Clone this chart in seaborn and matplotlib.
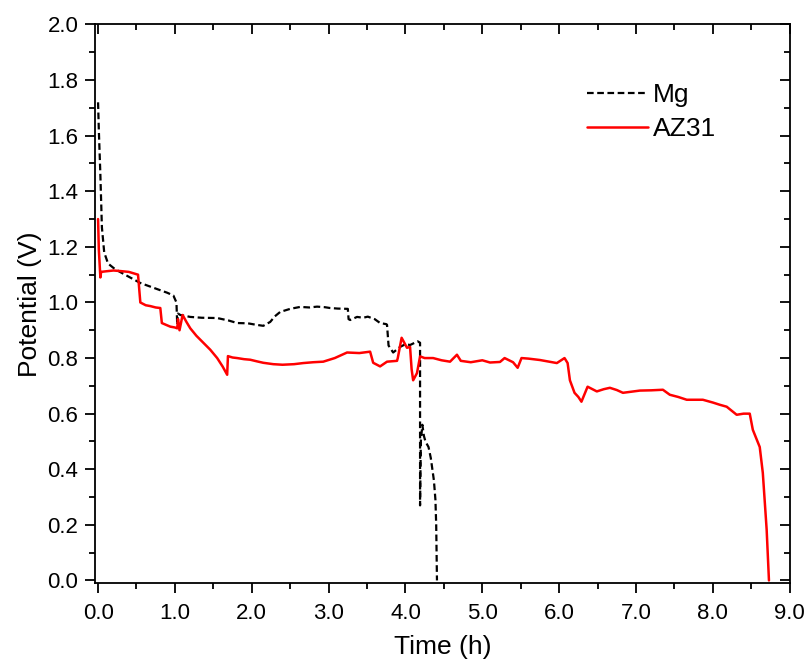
import numpy as np
import pandas as pd
import matplotlib
matplotlib.use("Agg")
import matplotlib.pyplot as plt
import seaborn as sns
from matplotlib.ticker import MultipleLocator

# Mg (black dashed)
mg_time = [0.00, 0.01, 0.03, 0.05, 0.08, 0.13, 0.22, 0.35, 0.55, 0.70, 0.80, 0.90,
           0.98, 1.02, 1.03, 1.04, 1.07, 1.20, 1.35, 1.55, 1.70, 1.81, 1.95, 2.05,
           2.15, 2.24, 2.30, 2.37, 2.50, 2.63, 2.75, 2.85, 2.95, 3.02, 3.12, 3.25,
           3.26, 3.28, 3.37, 3.45, 3.51, 3.60, 3.67, 3.75, 3.76, 3.78, 3.84, 3.93,
           4.00, 4.06, 4.12, 4.16, 4.19, 4.19, 4.20, 4.22, 4.24, 4.26, 4.30, 4.33,
           4.35, 4.37, 4.39, 4.40, 4.41]
mg_volt = [1.72, 1.62, 1.46, 1.27, 1.18, 1.14, 1.12, 1.10, 1.07, 1.055, 1.045, 1.035,
           1.025, 1.00, 0.92, 0.96, 0.955, 0.948, 0.945, 0.944, 0.935, 0.926, 0.925, 0.920,
           0.916, 0.930, 0.950, 0.966, 0.977, 0.984, 0.982, 0.985, 0.983, 0.980, 0.978, 0.977,
           0.940, 0.937, 0.948, 0.945, 0.949, 0.940, 0.926, 0.922, 0.920, 0.845, 0.820, 0.840,
           0.850, 0.847, 0.855, 0.860, 0.855, 0.270, 0.500, 0.560, 0.520, 0.500, 0.480, 0.440,
           0.400, 0.360, 0.290, 0.200, 0.000]

# AZ31 (red solid)
az_time = [0.00, 0.01, 0.03, 0.04, 0.10, 0.20, 0.29, 0.40, 0.52, 0.55, 0.62, 0.68,
           0.75, 0.81, 0.83, 0.88, 0.94, 1.00, 1.03, 1.04, 1.06, 1.10, 1.15, 1.20,
           1.28, 1.37, 1.46, 1.55, 1.62, 1.68, 1.69, 1.75, 1.81, 1.90, 1.98, 2.07,
           2.15, 2.28, 2.40, 2.55, 2.67, 2.80, 2.93, 3.08, 3.24, 3.40, 3.54, 3.58,
           3.67, 3.76, 3.89, 3.90, 3.95, 4.02, 4.06, 4.08, 4.10, 4.15, 4.19, 4.25,
           4.36, 4.47, 4.58, 4.67, 4.72, 4.85, 5.00, 5.10, 5.23, 5.29, 5.40, 5.46,
           5.51, 5.60, 5.75, 5.85, 5.97, 6.07, 6.11, 6.14, 6.20, 6.25, 6.29, 6.37,
           6.49, 6.58, 6.66, 6.75, 6.83, 7.05, 7.20, 7.35, 7.44, 7.55, 7.66, 7.87,
           8.00, 8.09, 8.18, 8.31, 8.40, 8.48, 8.52, 8.61, 8.65, 8.70, 8.73]
az_volt = [1.30, 1.19, 1.09, 1.11, 1.112, 1.115, 1.113, 1.110, 1.100, 1.000, 0.990, 0.987,
           0.982, 0.980, 0.926, 0.920, 0.913, 0.910, 0.907, 0.940, 0.900, 0.955, 0.930, 0.907,
           0.880, 0.855, 0.830, 0.800, 0.770, 0.740, 0.807, 0.802, 0.800, 0.796, 0.794, 0.788,
           0.783, 0.778, 0.776, 0.778, 0.782, 0.785, 0.787, 0.800, 0.820, 0.818, 0.823, 0.783,
           0.770, 0.787, 0.790, 0.800, 0.873, 0.837, 0.840, 0.760, 0.720, 0.746, 0.806, 0.800,
           0.800, 0.792, 0.787, 0.812, 0.790, 0.785, 0.792, 0.784, 0.786, 0.800, 0.785, 0.765,
           0.800, 0.798, 0.793, 0.788, 0.782, 0.800, 0.782, 0.720, 0.675, 0.660, 0.643, 0.697,
           0.680, 0.688, 0.693, 0.685, 0.675, 0.683, 0.684, 0.686, 0.668, 0.660, 0.650, 0.650,
           0.640, 0.632, 0.625, 0.596, 0.600, 0.600, 0.542, 0.480, 0.387, 0.183, 0.000]

sns.set_style("ticks")
plt.rcParams['font.family'] = ['Liberation Sans', 'DejaVu Sans']
plt.rcParams['text.color'] = 'black'
plt.rcParams['axes.labelcolor'] = 'black'
plt.rcParams['xtick.color'] = 'black'
plt.rcParams['ytick.color'] = 'black'
plt.rcParams['axes.edgecolor'] = 'black'

fig, ax = plt.subplots(figsize=(8.05, 6.62), dpi=100)
fig.subplots_adjust(left=0.118, right=0.981, top=0.963, bottom=0.119)

sns.lineplot(x=mg_time, y=mg_volt, ax=ax, color='black', linewidth=1.6,
             estimator=None, sort=False, label='Mg')
ax.lines[-1].set_dashes((3, 1.6))
sns.lineplot(x=az_time, y=az_volt, ax=ax, color='#ff0000', linewidth=1.8,
             estimator=None, sort=False, label='AZ31')

ax.set_xlim(-0.04, 9.0)
ax.set_ylim(-0.01, 2.0)
ax.xaxis.set_major_locator(MultipleLocator(1.0))
ax.xaxis.set_minor_locator(MultipleLocator(0.5))
ax.yaxis.set_major_locator(MultipleLocator(0.2))
ax.yaxis.set_minor_locator(MultipleLocator(0.1))
ax.xaxis.set_major_formatter(matplotlib.ticker.FormatStrFormatter('%.1f'))
ax.yaxis.set_major_formatter(matplotlib.ticker.FormatStrFormatter('%.1f'))

for side in ['top', 'right', 'left', 'bottom']:
    ax.spines[side].set_visible(True)
    ax.spines[side].set_linewidth(1.3)

ax.tick_params(which='both', direction='out', width=1.3, labelsize=16,
               top=True, right=True)
ax.tick_params(axis='x', pad=7)
ax.tick_params(axis='y', pad=5)
ax.tick_params(which='major', length=7)
ax.tick_params(which='minor', length=4)

# ticks on top/right point inward
for t in ax.xaxis.get_major_ticks() + ax.xaxis.get_minor_ticks():
    t.tick2line.set_marker(matplotlib.lines.TICKDOWN)
for t in ax.yaxis.get_major_ticks() + ax.yaxis.get_minor_ticks():
    t.tick2line.set_marker(matplotlib.lines.TICKLEFT)

ax.set_xlabel('Time (h)', fontsize=19, labelpad=8)
ax.set_ylabel('Potential (V)', fontsize=19, labelpad=4)

ax.legend(loc='upper left', bbox_to_anchor=(0.674, 0.938), frameon=False,
          fontsize=19, handlelength=2.3, handletextpad=0.2, labelspacing=0.4)

fig.savefig('out.png', dpi=100)
